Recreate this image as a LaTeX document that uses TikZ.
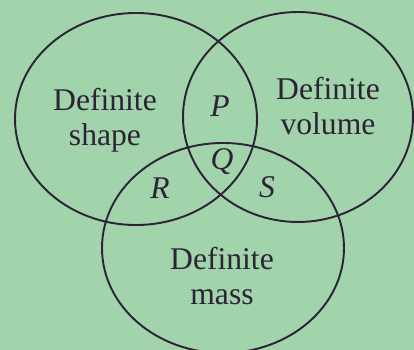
\documentclass[tikz,border=0pt]{standalone}
\usepackage{fontspec}
\setmainfont{Liberation Serif}
\definecolor{page}{RGB}{162,212,172}
\definecolor{ink}{RGB}{45,35,55}
\begin{document}
\begin{tikzpicture}[x=0.02cm,y=-0.02cm,
  set/.style={draw=ink,line width=1.1pt},
  lbl/.style={font=\rmfamily\fontsize{18}{20}\selectfont,text=ink,align=center,inner sep=0pt},
  reg/.style={font=\rmfamily\fontsize{18}{20}\selectfont\itshape,text=ink,inner sep=0pt}]
  % green page
  \fill[page] (0,0) rectangle (414,350);
  \useasboundingbox (0,0) rectangle (414,350);
  \draw[set] (136,119) ellipse [x radius=121,y radius=106];
  \draw[set] (298,117) ellipse [x radius=115,y radius=105];
  \draw[set] (223,248) ellipse [x radius=121,y radius=105];
  \node[lbl] (shape) at (105,120) {Definite\\shape};
  \node[lbl] (volume) at (328,106) {Definite\\volume};
  \node[lbl] (mass) at (222,276) {Definite\\mass};
  \node[reg] (p) at (220,106) {P};
  \node[reg] (q) at (222,162) {Q};
  \node[reg] (r) at (160,188) {R};
  \node[reg] (s) at (267,187) {S};
\end{tikzpicture}
\end{document}
